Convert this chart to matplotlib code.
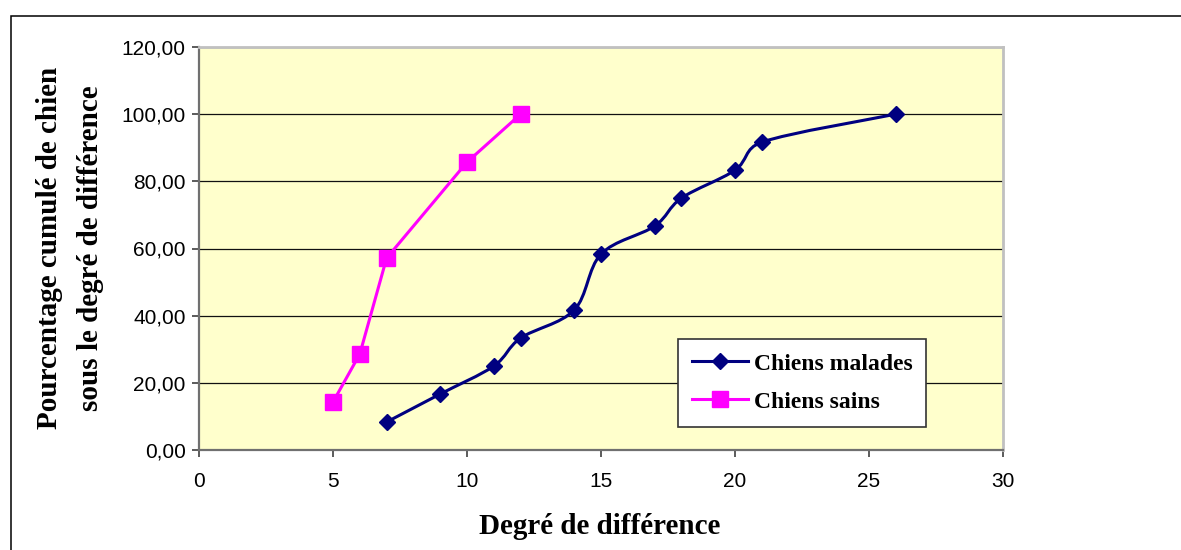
import matplotlib
matplotlib.use("Agg")
import matplotlib.pyplot as plt
import numpy as np
from matplotlib.path import Path
from matplotlib.patches import PathPatch, Rectangle
from matplotlib.lines import Line2D
from matplotlib.ticker import FuncFormatter, MultipleLocator

# Data
malades_x = [7, 9, 11, 12, 14, 15, 17, 18, 20, 21, 26]
malades_y = [8.33, 16.67, 25.00, 33.33, 41.67, 58.33, 66.67, 75.00, 83.33, 91.67, 100.00]
sains_x = [5, 6, 7, 10, 12]
sains_y = [14.29, 28.57, 57.14, 85.71, 100.00]
series_labels = ["Chiens malades", "Chiens sains"]
x_label = "Degré de différence"
y_label_lines = ["Pourcentage cumulé de chien", "sous le degré de différence"]

W, H = 1181, 550
fig = plt.figure(figsize=(W / 100, H / 100), dpi=100)
fig.patch.set_facecolor("white")

# outer chart border (extends beyond right/bottom edge)
fig.add_artist(Rectangle((10.5 / W, -0.1), 1.2, 1 - 16 / H + 0.1, transform=fig.transFigure,
                         fill=False, edgecolor="black", lw=1.1))

left, right, top, bottom = 199, 1003, 47, 450
ax = fig.add_axes([left / W, 1 - bottom / H, (right - left) / W, (bottom - top) / H])
ax.set_facecolor("#FFFFCC")
ax.set_xlim(0, 30)
ax.set_ylim(0, 120)
ax.xaxis.set_major_locator(MultipleLocator(5))
ax.yaxis.set_major_locator(MultipleLocator(20))
ax.yaxis.set_major_formatter(FuncFormatter(lambda v, p: f"{v:.2f}".replace(".", ",")))
ax.grid(axis="y", color="#111111", lw=0.9)
ax.set_axisbelow(True)
for s in ["top", "right"]:
    ax.spines[s].set_color("#C0C0C0")
    ax.spines[s].set_linewidth(2)
for s in ["left", "bottom"]:
    ax.spines[s].set_color("#707070")
    ax.spines[s].set_linewidth(1.6)
ax.tick_params(direction="out", length=5, width=1.2, color="#404040",
               labelsize=15, labelcolor="black")
ax.tick_params(axis="y", pad=4.5)
ax.tick_params(axis="x", pad=10.5)
for lab in ax.get_xticklabels() + ax.get_yticklabels():
    lab.set_fontfamily("Liberation Sans")


def smooth_path(xs, ys):
    """Excel-style smoothed line: cubic Bezier through the data points."""
    pts = ax.transData.transform(np.column_stack([xs, ys]))
    n = len(pts)
    verts = [pts[0]]
    codes = [Path.MOVETO]
    for i in range(n - 1):
        p0 = pts[i - 1] if i > 0 else pts[i]
        p1 = pts[i]
        p2 = pts[i + 1]
        p3 = pts[i + 2] if i + 2 < n else pts[i + 1]
        d02 = np.hypot(*(p2 - p0))
        d12 = np.hypot(*(p2 - p1))
        d13 = np.hypot(*(p3 - p1))
        f1 = 1 / 6 if d02 / 6 < d12 / 2 else (d12 / d02 / 2 if d02 > 0 else 0)
        f2 = 1 / 6 if d13 / 6 < d12 / 2 else (d12 / d13 / 2 if d13 > 0 else 0)
        c1 = p1 + (p2 - p0) * f1
        c2 = p2 - (p3 - p1) * f2
        verts += [c1, c2, p2]
        codes += [Path.CURVE4] * 3
    verts = ax.transData.inverted().transform(np.array(verts))
    return Path(verts, codes)


navy = "#000080"
mag = "#FF00FF"
ax.add_patch(PathPatch(smooth_path(malades_x, malades_y), fill=False, edgecolor=navy,
                       lw=2.2, transform=ax.transData, zorder=3))
ax.plot(malades_x, malades_y, ls="none", marker="D", ms=8.5, color=navy, zorder=4)
ax.plot(sains_x, sains_y, ls="-", lw=2.2, marker="s", ms=11, color=mag, zorder=4)

handles = [
    Line2D([], [], color=navy, lw=2.2, marker="D", ms=8.5),
    Line2D([], [], color=mag, lw=2.2, marker="s", ms=11),
]
leg = fig.legend(handles, series_labels, loc="upper left",
                 bbox_to_anchor=(678 / W, 1 - 339 / H), bbox_transform=fig.transFigure,
                 prop={"family": "Liberation Serif", "weight": "bold", "size": 17},
                 frameon=True, fancybox=False, edgecolor="#333333", facecolor="white",
                 framealpha=1, borderpad=0.6, labelspacing=0.7, handlelength=2.35,
                 handletextpad=0.25, borderaxespad=0)
leg.get_frame().set_linewidth(1.2)

fig.text(600 / W, 1 - 534 / H, x_label, ha="center", va="baseline",
         family="Liberation Serif", weight="bold", fontsize=21)
fig.text(50 / W, 1 - 248 / H, y_label_lines[0], ha="center", va="center", rotation=90,
         family="Liberation Serif", weight="bold", fontsize=21)
fig.text(91 / W, 1 - 248 / H, y_label_lines[1], ha="center", va="center", rotation=90,
         family="Liberation Serif", weight="bold", fontsize=21)

fig.savefig("out.png", dpi=100)
